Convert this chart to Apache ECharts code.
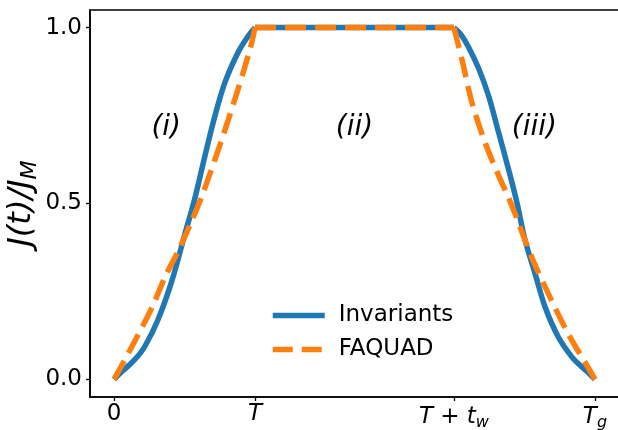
<!DOCTYPE html>
<html>
<head>
<meta charset="utf-8">
<script src="https://cdn.jsdelivr.net/npm/echarts@6/dist/echarts.min.js"></script>
<style>
  html, body { margin: 0; padding: 0; background: #fff; }
  #chart { width: 618px; height: 430px; }
</style>
</head>
<body>
<div id="chart"></div>
<script>
// time axis in units of T; t_w ~ 1.41 T, T_g = 2T + t_w
const xTickValues = [0, 1, 2.41, 3.41];
const xTickLabels = ['0', '{i|T}', '{i|T} + {i|t}{sub|w}', '{i|T}{sub|g}'];
const yTickValues = [0, 0.5, 1];

// Invariants (blue): ramp up, plateau, ramp down
const invUpT = [0, 0.05, 0.1, 0.16, 0.22, 0.31, 0.41, 0.5, 0.57, 0.645, 0.716, 0.787, 0.88, 0.95, 1];
const invUpJ = [0, 0.02, 0.038, 0.062, 0.095, 0.168, 0.28, 0.41, 0.51, 0.636, 0.75, 0.845, 0.93, 0.975, 1];
const invFlatT = [1, 2.41];
const invFlatJ = [1, 1];
const invDownT = [2.41, 2.46, 2.513, 2.584, 2.655, 2.726, 2.796, 2.856, 2.915, 2.986, 3.057, 3.151, 3.25, 3.31, 3.36, 3.41];
const invDownJ = [1, 0.98, 0.945, 0.885, 0.807, 0.703, 0.599, 0.504, 0.395, 0.30, 0.205, 0.12, 0.062, 0.038, 0.02, 0];

// FAQUAD (orange dashed)
const faqUpT = [0, 0.125, 0.27, 0.36, 0.456, 0.55, 0.62, 0.75, 0.88, 0.965, 1];
const faqUpJ = [0, 0.092, 0.205, 0.29, 0.366, 0.45, 0.518, 0.665, 0.826, 0.94, 1];
const faqFlatT = [1, 2.41];
const faqFlatJ = [1, 1];
const faqDownT = [2.41, 2.466, 2.537, 2.63, 2.726, 2.796, 2.844, 2.962, 3.08, 3.22, 3.388, 3.41];
const faqDownJ = [1, 0.911, 0.788, 0.674, 0.58, 0.518, 0.47, 0.347, 0.243, 0.13, 0.016, 0];

// region annotations
const regionNames = ['(i)', '(ii)', '(iii)'];
const regionT = [0.37, 1.705, 2.98];
const regionJ = [0.716, 0.716, 0.716];

const zip = (xs, ys) => xs.map((x, i) => [x, ys[i]]);

const fontFam = 'DejaVu Sans';
const blue = '#1f77b4';
const orange = '#ff7f0e';
const dash = [21, 9];

function invSeries(data, smooth) {
  return {
    name: 'Invariants', type: 'line', data, smooth, symbol: 'none',
    lineStyle: { color: blue, width: 5.5 }, itemStyle: { color: blue }, z: 2
  };
}
function faqSeries(data, smooth) {
  return {
    name: 'FAQUAD', type: 'line', data, smooth, symbol: 'none',
    lineStyle: { color: orange, width: 5.5, type: dash, cap: 'butt' }, itemStyle: { color: orange }, z: 3
  };
}

const chart = echarts.init(document.getElementById('chart'), null, { renderer: 'canvas' });

chart.setOption({
  animation: false,
  textStyle: { fontFamily: fontFam },
  grid: {
    left: 90, top: 10, right: -1, bottom: 33,
    containLabel: false,
    outerBoundsMode: 'none',
    show: true, borderColor: '#000', borderWidth: 1.6, backgroundColor: 'transparent'
  },
  legend: {
    data: [
      { name: 'Invariants', lineStyle: { width: 5.5, type: 'solid', color: blue } },
      { name: 'FAQUAD', lineStyle: { width: 5.5, type: [20, 9], color: orange } }
    ],
    orient: 'vertical',
    left: 270, top: 304,
    padding: 0,
    itemWidth: 52, itemHeight: 23, itemGap: 11,
    itemStyle: { opacity: 0 },
    textStyle: { fontSize: 23, color: '#000', fontFamily: fontFam, padding: [0, 0, 0, 9] }
  },
  xAxis: {
    type: 'value',
    min: -0.1705, max: 3.5805,
    splitLine: { show: false },
    axisLine: { show: true, onZero: false, lineStyle: { color: '#000', width: 1.6 } },
    axisTick: { show: true, customValues: xTickValues, length: 4, lineStyle: { color: '#000', width: 1.3 } },
    axisLabel: {
      customValues: xTickValues,
      margin: 6,
      color: '#000', fontSize: 23, fontFamily: fontFam,
      formatter: v => {
        const i = xTickValues.findIndex(x => Math.abs(x - v) < 1e-6);
        return i >= 0 ? xTickLabels[i] : '';
      },
      rich: {
        i: { fontStyle: 'italic', fontSize: 23, fontFamily: fontFam, color: '#000' },
        sub: { fontStyle: 'italic', fontSize: 16, fontFamily: fontFam, color: '#000', padding: [12, 0, 0, 0] }
      }
    }
  },
  yAxis: {
    type: 'value',
    min: -0.05, max: 1.05,
    splitLine: { show: false },
    axisLine: { show: true, onZero: false, lineStyle: { color: '#000', width: 1.6 } },
    axisTick: { show: true, customValues: yTickValues, length: 4, lineStyle: { color: '#000', width: 1.3 } },
    axisLabel: {
      customValues: yTickValues,
      margin: 8,
      color: '#000', fontSize: 23, fontFamily: fontFam,
      formatter: v => v.toFixed(1)
    },
    name: '{i|J}(t)/{i|J}{sub|M}',
    nameLocation: 'middle',
    nameGap: 49,
    nameMoveOverlap: false,
    nameTextStyle: {
      fontSize: 32, fontStyle: 'italic', color: '#000', fontFamily: fontFam,
      rich: {
        i: { fontSize: 32, fontStyle: 'italic', fontFamily: fontFam, color: '#000' },
        sub: { fontSize: 22, fontStyle: 'italic', fontFamily: fontFam, color: '#000', padding: [16, 0, 0, 0] }
      }
    }
  },
  series: [
    invSeries(zip(invUpT, invUpJ), 0.35),
    invSeries(zip(invFlatT, invFlatJ), false),
    invSeries(zip(invDownT, invDownJ), 0.35),
    faqSeries(zip(faqUpT, faqUpJ), 0.3),
    faqSeries(zip(faqFlatT, faqFlatJ), false),
    faqSeries(zip(faqDownT, faqDownJ), 0.3),
    {
      name: 'regions',
      type: 'scatter',
      data: regionNames.map((n, i) => ({ name: n, value: [regionT[i], regionJ[i]] })),
      symbolSize: 0,
      silent: true,
      itemStyle: { opacity: 1 },
      label: {
        show: true, position: 'inside',
        formatter: p => p.name,
        fontSize: 28, fontStyle: 'italic', color: '#000', fontFamily: fontFam
      },
      z: 4
    }
  ]
});
</script>
</body>
</html>
